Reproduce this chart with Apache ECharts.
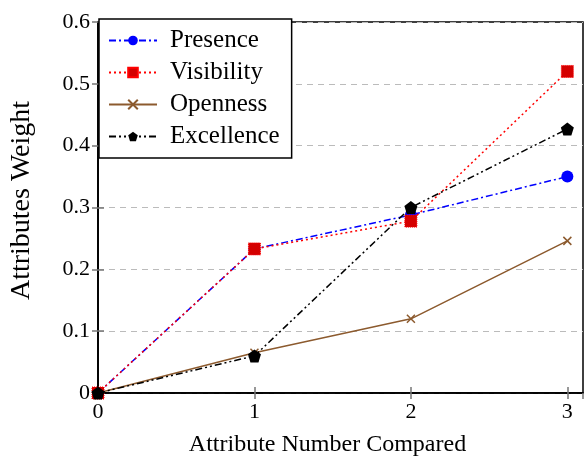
<!DOCTYPE html>
<html><head><meta charset="utf-8">
<script src="https://cdn.jsdelivr.net/npm/echarts@6/dist/echarts.min.js"></script>
<style>html,body{margin:0;padding:0;background:#fff}#c{width:584px;height:462px}</style>
</head><body><div id="c"></div>
<script>
const xValues = [0, 1, 2, 3];
const presence = [0, 0.233, 0.288, 0.35];
const visibility = [0, 0.233, 0.278, 0.52];
const openness = [0, 0.065, 0.12, 0.246];
const excellence = [0, 0.06, 0.30, 0.427];
const seriesNames = ['Presence', 'Visibility', 'Openness', 'Excellence'];

const pair = arr => xValues.map((x, i) => [x, arr[i]]);
const F = 'Liberation Serif, Times New Roman, serif';
const pentagon = 'path://M0,-1 L0.951,-0.309 L0.588,0.809 L-0.588,0.809 L-0.951,-0.309 Z';
const cross = 'path://M-1,-1 L1,1 M1,-1 L-1,1';

const chart = echarts.init(document.getElementById('c'));
const tickIn = {show: true, inside: true, length: 6, lineStyle: {color: '#777', width: 1.5}};
chart.setOption({
  animation: false,
  grid: {left: 98, right: 1, top: 22, bottom: 69, outerBoundsMode: 'none', containLabel: false,
    show: true, borderColor: '#000', borderWidth: 1.5, backgroundColor: 'transparent'},
  legend: {
    left: 99, top: 19, orient: 'vertical', itemGap: 7, itemWidth: 48, itemHeight: 12,
    padding: [9, 12, 9, 9],
    backgroundColor: '#fff', borderColor: '#000', borderWidth: 1.5, borderRadius: 0,
    textStyle: {fontFamily: F, fontSize: 25, lineHeight: 25, color: '#000', padding: [0, 0, 0, 8]},
    data: seriesNames
  },
  xAxis: [{
    type: 'value', min: 0, max: 3.1, interval: 1,
    name: 'Attribute Number Compared', nameLocation: 'middle', nameGap: 40,
    nameTextStyle: {fontFamily: F, fontSize: 24, color: '#000', padding: [0, 26, 0, 0]},
    axisLine: {show: true, onZero: false, lineStyle: {color: '#000', width: 1.5}},
    axisTick: tickIn,
    axisLabel: {fontFamily: F, fontSize: 22, color: '#000', margin: 8, showMaxLabel: false,
      formatter: v => Number.isInteger(v) ? String(v) : ''},
    splitLine: {show: false}
  }, {
    type: 'value', min: 0, max: 3.1, interval: 1, position: 'top',
    axisLine: {show: true, lineStyle: {color: '#000', width: 1.5}},
    axisTick: tickIn, axisLabel: {show: false}, splitLine: {show: false}
  }],
  yAxis: [{
    type: 'value', min: 0, max: 0.6, interval: 0.1,
    name: 'Attributes Weight', nameLocation: 'middle', nameGap: 62, nameRotate: 90,
    nameTextStyle: {fontFamily: F, fontSize: 28, color: '#000', padding: [0, 0, 0, 14]},
    axisLine: {show: true, lineStyle: {color: '#000', width: 1.5}},
    axisTick: tickIn,
    axisLabel: {fontFamily: F, fontSize: 22, color: '#000', margin: 8,
      formatter: v => v === 0 ? '0' : v.toFixed(1)},
    splitLine: {show: true, lineStyle: {color: '#bbb', width: 1, type: [6, 5]}}
  }, {
    type: 'value', min: 0, max: 0.6, interval: 0.1, position: 'right',
    axisLine: {show: true, lineStyle: {color: '#000', width: 1.5}},
    axisTick: tickIn, axisLabel: {show: false}, splitLine: {show: false}
  }],
  series: [
    {name: 'Presence', type: 'line', data: pair(presence), symbol: 'circle', symbolSize: 12,
     itemStyle: {color: '#0000ff'}, lineStyle: {color: '#0000ff', width: 1.5, type: [7, 3, 2, 3]}, z: 3},
    {name: 'Visibility', type: 'line', data: pair(visibility), symbol: 'rect', symbolSize: 12,
     itemStyle: {color: '#d40000', borderColor: '#ff0000', borderWidth: 1, borderType: 'dotted'},
     lineStyle: {color: '#ff0000', width: 1.5, type: [2, 3]}, z: 4},
    {name: 'Openness', type: 'line', data: pair(openness), symbol: cross, symbolSize: 8,
     itemStyle: {color: '#8c5a2e', borderColor: '#8c5a2e', borderWidth: 1.5},
     lineStyle: {color: '#8c5a2e', width: 1.5}, z: 2},
    {name: 'Excellence', type: 'line', data: pair(excellence), symbol: pentagon, symbolSize: 13,
     itemStyle: {color: '#000'}, lineStyle: {color: '#000', width: 1.5, type: [7, 3, 2, 3, 2, 3]}, z: 5}
  ]
});
</script></body></html>
